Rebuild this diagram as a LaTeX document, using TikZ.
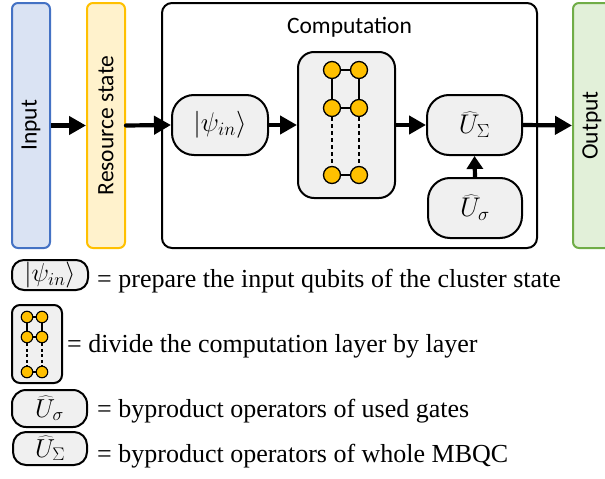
\RequirePackage{fix-cm}
\documentclass[tikz,border=0pt]{standalone}
\usepackage{fontspec}
\setmainfont{Liberation Serif}
\newfontfamily\carlito{Carlito}
\usetikzlibrary{arrows.meta}
\definecolor{inFill}{HTML}{DAE3F3}
\definecolor{inDraw}{HTML}{4472C4}
\definecolor{resFill}{HTML}{FFF2CC}
\definecolor{resDraw}{HTML}{FFC000}
\definecolor{outFill}{HTML}{E2F0D9}
\definecolor{outDraw}{HTML}{70AD47}
\definecolor{grayFill}{HTML}{F0F0F0}
\definecolor{qFill}{HTML}{FFC000}
\begin{document}
\begin{tikzpicture}[x=1pt,y=-1pt,
  bar/.style={draw, line width=2pt, rounded corners=6pt, rotate=90,
    minimum width=245pt, minimum height=38pt, inner sep=0pt,
    font=\carlito\fontsize{23.5}{28}\selectfont},
  gbox/.style={draw, line width=2pt, fill=grayFill, inner sep=0pt},
  bigarrow/.style={-{Triangle[length=17pt,width=18pt]}, line width=4.2pt},
  qubit/.style={circle, draw, line width=1.3pt, fill=qFill, minimum size=17pt, inner sep=0pt},
  smallqubit/.style={circle, draw, line width=1.1pt, fill=qFill, minimum size=11.5pt, inner sep=0pt},
  qlink/.style={line width=1.4pt},
  qdash/.style={line width=1.4pt, dash pattern=on 4pt off 3pt},
  mainmath/.style={font=\fontsize{27}{32}\selectfont},
  legmath/.style={font=\fontsize{26}{30}\selectfont},
  legtext/.style={anchor=base west, inner sep=0pt, font=\fontsize{26}{30}\selectfont}
]
\clip (0,0) rectangle (605,479);
\useasboundingbox (0,0) rectangle (605,479);

% side bars
\node[bar, fill=inFill, draw=inDraw] (input) at (31,125.5) {Input};
\node[bar, fill=resFill, draw=resDraw] (res) at (106,125.5) {Resource state};
\node[bar, fill=outFill, draw=outDraw] (out) at (592,125.5) {Output};

% computation frame
\node[draw, line width=2pt, rounded corners=10pt, minimum width=375pt, minimum height=245pt] (comp) at (349.5,125.5) {};
\node[anchor=base, inner sep=0pt, font=\carlito\fontsize{23.5}{28}\selectfont] (comptitle) at (349.5,33) {Computation};

% inner nodes
\node[gbox, rounded corners=22pt, minimum width=96pt, minimum height=60pt, mainmath] (psi) at (220,125) {$|\psi_{in}\rangle$};
\node[gbox, rounded corners=16pt, minimum width=97pt, minimum height=146pt] (clus) at (346.5,125) {};
\node[gbox, rounded corners=22pt, minimum width=95pt, minimum height=60pt, mainmath] (US) at (474.5,125) {$\widehat{U}_{\Sigma}$};
\node[gbox, rounded corners=22pt, minimum width=94pt, minimum height=60pt, mainmath] (Us) at (475,208) {$\widehat{U}_{\sigma}$};

% qubits
\node[qubit] (q11) at (332,70) {};
\node[qubit] (q12) at (359,70) {};
\node[qubit] (q21) at (332,108) {};
\node[qubit] (q22) at (359,108) {};
\node[qubit] (q31) at (332,175) {};
\node[qubit] (q32) at (359,175) {};
\draw[qlink] (q11) -- (q12);
\draw[qlink] (q21) -- (q22);
\draw[qlink] (q31) -- (q32);
\draw[qlink] (q11) -- (q21);
\draw[qlink] (q12) -- (q22);
\draw[qdash] (q21) -- (q31);
\draw[qdash] (q22) -- (q32);

% arrows
\draw[bigarrow] (input.south) -- (res.north);
\draw[bigarrow, line cap=round] (res.south) -- (psi.west);
\draw[bigarrow, line cap=round] (psi.east) -- (clus.west);
\draw[bigarrow, line cap=round] (clus.east) -- (US.west);
\draw[bigarrow, line cap=round] (US.east) -- (out.north);
\draw[-{Triangle[length=13pt,width=16pt]}, line width=4.2pt] (Us.north) -- (US.south);

% legend
\node[gbox, rounded corners=12pt, minimum width=76pt, minimum height=30pt, legmath] (lpsi) at (50,275) {$|\psi_{in}\rangle$};
\node[legtext] (tpsi) at (97,287) {= prepare the input qubits of the cluster state};

\node[gbox, rounded corners=8pt, minimum width=50pt, minimum height=78pt] (lclus) at (37,344) {};
\node[smallqubit] (l11) at (27,317) {};
\node[smallqubit] (l12) at (42,317) {};
\node[smallqubit] (l21) at (27,337) {};
\node[smallqubit] (l22) at (42,337) {};
\node[smallqubit] (l31) at (27,372) {};
\node[smallqubit] (l32) at (42,372) {};
\draw[qlink] (l11) -- (l12);
\draw[qlink] (l21) -- (l22);
\draw[qlink] (l31) -- (l32);
\draw[qlink] (l11) -- (l21);
\draw[qlink] (l12) -- (l22);
\draw[qdash, dash pattern=on 3pt off 2.5pt] (l21) -- (l31);
\draw[qdash, dash pattern=on 3pt off 2.5pt] (l22) -- (l32);
\node[legtext] (tclus) at (67,352) {= divide the computation layer by layer};

\node[gbox, rounded corners=14pt, minimum width=75pt, minimum height=37pt, legmath] (lUs) at (49.5,408.5) {$\widehat{U}_{\sigma}$};
\node[legtext] (tUs) at (97,417) {= byproduct operators of used gates};

\node[gbox, rounded corners=13pt, minimum width=74pt, minimum height=33pt, legmath] (lUS) at (50,448.5) {$\widehat{U}_{\Sigma}$};
\node[legtext] (tUS) at (97,462) {= byproduct operators of whole MBQC};
\end{tikzpicture}
\end{document}
